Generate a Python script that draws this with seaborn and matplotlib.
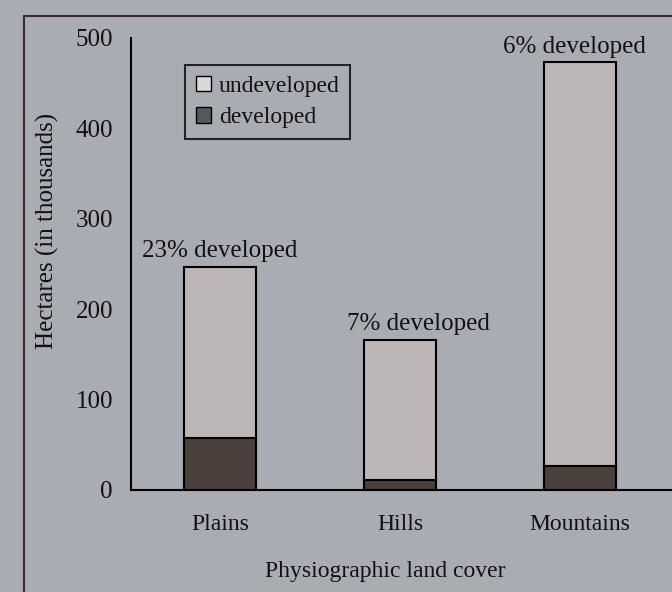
import pandas as pd
import seaborn as sns
import matplotlib.pyplot as plt
from matplotlib.patches import Patch, Rectangle

# data (thousands of hectares)
land_cover = ['Plains', 'Hills', 'Mountains']
total = [247, 166, 473]
developed = [57, 11, 27]
pct_labels = ['23% developed', '7% developed', '6% developed']

df = pd.DataFrame({'cover': land_cover, 'total': total, 'developed': developed})

bg = '#a9adb3'
bar_fill = '#bdb6b6'
dev_fill = '#4b403b'

sns.set_theme(style='white')
plt.rcParams['font.family'] = ['Liberation Serif', 'DejaVu Serif']

fig = plt.figure(figsize=(6.72, 5.92), dpi=100, facecolor=bg)
ax = fig.add_axes([131/672, 1 - 490/592, 1 - 131/672, (490 - 38)/592])
ax.set_facecolor(bg)

# outer frame of the scanned figure
fig.add_artist(Rectangle((24/672, -0.1), 1.2, 1 - 16/592 + 0.1, transform=fig.transFigure,
                         fill=False, edgecolor='#3b2b30', linewidth=1.5))

sns.barplot(data=df, x='cover', y='total', color=bar_fill, width=0.4,
            edgecolor='black', linewidth=1.5, saturation=1, ax=ax)
sns.barplot(data=df, x='cover', y='developed', color=dev_fill, width=0.4,
            edgecolor='black', linewidth=1.5, saturation=1, ax=ax)

# label nudges (the hills note sits a bit right of its bar in the original)
nudge = [0, 0.1, -0.03]
for i, (t, lab) in enumerate(zip(total, pct_labels)):
    ax.text(i + nudge[i], t + 5, lab, ha='center', va='bottom', fontsize=18, color='#111111')

ax.set_ylim(0, 500)
ax.set_xlim(-0.494, 2.51)
ax.set_yticks([0, 100, 200, 300, 400, 500])
ax.tick_params(axis='y', length=0, pad=13, labelsize=18, colors='#111111')
ax.tick_params(axis='x', length=0, pad=17, labelsize=17, colors='#111111')
ax.set_xlabel('Physiographic land cover', fontsize=17, labelpad=19, color='#111111', x=0.47)
ax.set_ylabel('Hectares (in thousands)', fontsize=18, labelpad=12, color='#111111', y=0.573)

for s in ['top', 'right']:
    ax.spines[s].set_visible(False)
for s in ['left', 'bottom']:
    ax.spines[s].set_color('black')
    ax.spines[s].set_linewidth(1.5)

handles = [Patch(facecolor='#d8d8d8', edgecolor='black', label='undeveloped'),
           Patch(facecolor='#55595c', edgecolor='black', label='developed')]
leg = fig.legend(handles=handles, loc='upper left', bbox_to_anchor=(185/672, 1 - 65/592),
                 frameon=True, fancybox=False, fontsize=17, handlelength=0.64,
                 handleheight=0.64, handletextpad=0.34, borderpad=0.45, labelspacing=0.45,
                 borderaxespad=0, labelcolor='#111111')
leg.get_frame().set_edgecolor('black')
leg.get_frame().set_facecolor(bg)
leg.get_frame().set_linewidth(1.5)

fig.savefig('out.png', dpi=100, facecolor=bg)
